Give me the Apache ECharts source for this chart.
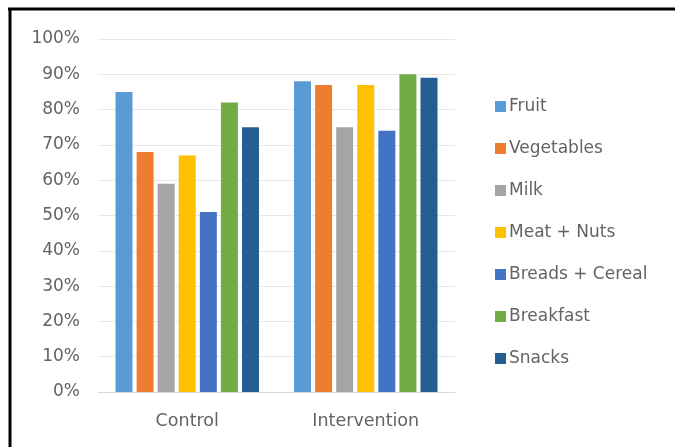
<!DOCTYPE html>
<html>
<head>
<meta charset="utf-8">
<script src="https://cdn.jsdelivr.net/npm/echarts@6/dist/echarts.min.js"></script>
<style>
  html, body { margin: 0; padding: 0; background: #fff; }
  #chart { width: 675px; height: 447px; }
</style>
</head>
<body>
<div id="chart"></div>
<script>
// groups on the x axis
const groups = ['Control', 'Intervention']
// food categories (one series each)
const foods = ['Fruit', 'Vegetables', 'Milk', 'Meat + Nuts', 'Breads + Cereal', 'Breakfast', 'Snacks']
// percent values, [Control, Intervention]
const fruit = [85, 88]
const vegetables = [68, 87]
const milk = [59, 75]
const meatNuts = [67, 87]
const breadsCereal = [51, 74]
const breakfast = [82, 90]
const snacks = [75, 89]
const yTicks = [0, 10, 20, 30, 40, 50, 60, 70, 80, 90, 100]

const values = [fruit, vegetables, milk, meatNuts, breadsCereal, breakfast, snacks]
const colors = ['#5B9BD5', '#ED7D31', '#A5A5A5', '#FFC000', '#4472C4', '#70AD47', '#255E91']
const textColor = '#636363'

const chart = echarts.init(document.getElementById('chart'))

chart.setOption({
  animation: false,
  color: colors,
  textStyle: { fontFamily: 'DejaVu Sans' },
  grid: { left: 98, right: 220, top: 39, bottom: 55, containLabel: false },
  legend: {
    orient: 'vertical',
    left: 490,
    top: 93,
    itemWidth: 11,
    itemHeight: 11,
    itemGap: 25,
    icon: 'rect',
    textStyle: { color: textColor, fontSize: 17, padding: [0, 0, 0, -2] },
    data: foods
  },
  xAxis: {
    type: 'category',
    data: groups,
    axisLine: { lineStyle: { color: '#D9D9D9' } },
    axisTick: { show: false },
    axisLabel: { color: textColor, fontSize: 17.5, margin: 20 }
  },
  yAxis: {
    type: 'value',
    min: yTicks[0],
    max: yTicks[yTicks.length - 1],
    interval: 10,
    axisLine: { show: false },
    axisTick: { show: false },
    splitLine: { lineStyle: { color: '#E8E8E8' } },
    axisLabel: { color: textColor, fontSize: 17, margin: 18, formatter: v => v + '%' }
  },
  series: foods.map((name, i) => ({
    name: name,
    type: 'bar',
    data: values[i],
    barWidth: 17,
    barGap: '24%',
    barCategoryGap: '20%'
  })),
  graphic: [
    { type: 'line', shape: { x1: 8, y1: 9, x2: 675, y2: 9 }, style: { stroke: '#000', lineWidth: 3 } },
    { type: 'line', shape: { x1: 10, y1: 8, x2: 10, y2: 447 }, style: { stroke: '#000', lineWidth: 3 } }
  ]
})
</script>
</body>
</html>
